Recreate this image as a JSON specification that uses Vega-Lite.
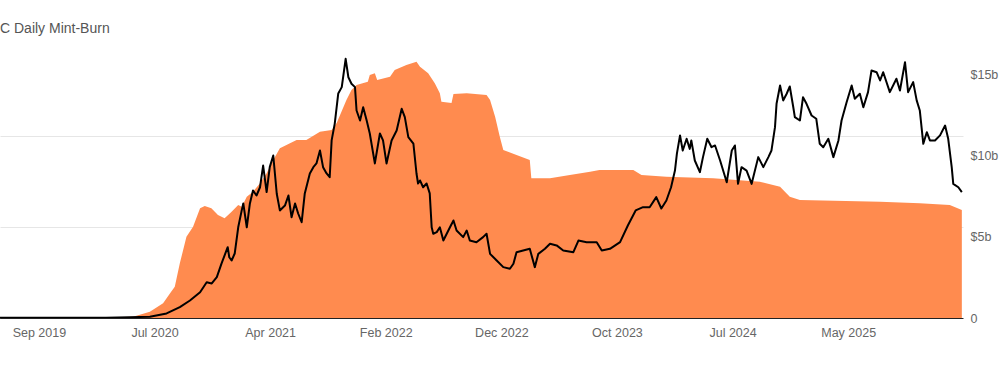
{
  "$schema": "https://vega.github.io/schema/vega-lite/v6.json",
  "autosize": {"type": "none"},
  "width": 963,
  "height": 273,
  "padding": {"left": 0, "top": 45, "right": 37, "bottom": 60},
  "background": "#ffffff",
  "title": {
    "text": "C Daily Mint-Burn",
    "anchor": "start",
    "frame": "group",
    "offset": 9,
    "font": "Liberation Sans",
    "fontSize": 14,
    "fontWeight": "normal",
    "color": "#555555"
  },
  "config": {
    "view": {"stroke": null},
    "axis": {"labelFont": "Liberation Sans", "labelFontSize": 12.5, "labelColor": "#666666"}
  },
  "datasets": {
    "supply": [
      {"date": "2019-06-03", "btc": 200},
      {"date": "2019-12-01", "btc": 300},
      {"date": "2020-03-01", "btc": 500},
      {"date": "2020-05-10", "btc": 1400},
      {"date": "2020-06-22", "btc": 6900},
      {"date": "2020-07-26", "btc": 16150},
      {"date": "2020-08-13", "btc": 27100},
      {"date": "2020-08-25", "btc": 34400},
      {"date": "2020-09-07", "btc": 60100},
      {"date": "2020-09-24", "btc": 89300},
      {"date": "2020-10-11", "btc": 100300},
      {"date": "2020-10-29", "btc": 120500},
      {"date": "2020-11-10", "btc": 123100},
      {"date": "2020-11-27", "btc": 120500},
      {"date": "2020-12-14", "btc": 113200},
      {"date": "2020-12-31", "btc": 109600},
      {"date": "2021-01-18", "btc": 116800},
      {"date": "2021-02-04", "btc": 124200},
      {"date": "2021-02-13", "btc": 122300},
      {"date": "2021-02-26", "btc": 133300},
      {"date": "2021-03-14", "btc": 138800},
      {"date": "2021-04-01", "btc": 148000},
      {"date": "2021-04-18", "btc": 159000},
      {"date": "2021-05-05", "btc": 173600},
      {"date": "2021-05-22", "btc": 186500},
      {"date": "2021-06-17", "btc": 192000},
      {"date": "2021-07-04", "btc": 195600},
      {"date": "2021-07-29", "btc": 195600},
      {"date": "2021-09-02", "btc": 204700},
      {"date": "2021-10-02", "btc": 206600},
      {"date": "2021-10-15", "btc": 214300},
      {"date": "2021-11-09", "btc": 239600},
      {"date": "2021-11-22", "btc": 250500},
      {"date": "2021-12-05", "btc": 256000},
      {"date": "2022-01-03", "btc": 259700},
      {"date": "2022-01-08", "btc": 267000},
      {"date": "2022-01-21", "btc": 268900},
      {"date": "2022-01-27", "btc": 261500},
      {"date": "2022-03-01", "btc": 265200},
      {"date": "2022-03-13", "btc": 272500},
      {"date": "2022-04-12", "btc": 278000},
      {"date": "2022-05-08", "btc": 281600},
      {"date": "2022-05-17", "btc": 276200},
      {"date": "2022-06-07", "btc": 268900},
      {"date": "2022-06-24", "btc": 257900},
      {"date": "2022-07-07", "btc": 246900},
      {"date": "2022-07-11", "btc": 237700},
      {"date": "2022-08-06", "btc": 236300},
      {"date": "2022-08-11", "btc": 246200},
      {"date": "2022-09-14", "btc": 246900},
      {"date": "2022-11-04", "btc": 245000},
      {"date": "2022-11-13", "btc": 239600},
      {"date": "2022-11-26", "btc": 221200},
      {"date": "2022-12-08", "btc": 199200},
      {"date": "2022-12-17", "btc": 184600},
      {"date": "2023-01-20", "btc": 179100},
      {"date": "2023-02-23", "btc": 173600},
      {"date": "2023-02-27", "btc": 153500},
      {"date": "2023-04-16", "btc": 153500},
      {"date": "2023-06-06", "btc": 157100},
      {"date": "2023-07-28", "btc": 160800},
      {"date": "2023-08-21", "btc": 162600},
      {"date": "2023-11-16", "btc": 162600},
      {"date": "2023-12-07", "btc": 157100},
      {"date": "2024-02-09", "btc": 155300},
      {"date": "2024-06-08", "btc": 153500},
      {"date": "2024-10-06", "btc": 149800},
      {"date": "2024-11-27", "btc": 144300},
      {"date": "2024-12-22", "btc": 133300},
      {"date": "2025-01-17", "btc": 129700},
      {"date": "2025-08-11", "btc": 127800},
      {"date": "2025-11-21", "btc": 126000},
      {"date": "2026-02-06", "btc": 124200},
      {"date": "2026-03-09", "btc": 118700}
    ],
    "mcap": [
      {"date": "2019-06-03", "usd_b": 0.01},
      {"date": "2019-12-01", "usd_b": 0.01},
      {"date": "2020-03-01", "usd_b": 0.02},
      {"date": "2020-05-01", "usd_b": 0.04},
      {"date": "2020-06-22", "usd_b": 0.08},
      {"date": "2020-08-04", "usd_b": 0.28},
      {"date": "2020-09-07", "usd_b": 0.67},
      {"date": "2020-10-03", "usd_b": 1.08},
      {"date": "2020-10-29", "usd_b": 1.59},
      {"date": "2020-11-15", "usd_b": 2.21},
      {"date": "2020-11-28", "usd_b": 2.13},
      {"date": "2020-12-11", "usd_b": 2.52},
      {"date": "2020-12-23", "usd_b": 3.36},
      {"date": "2021-01-08", "usd_b": 4.37},
      {"date": "2021-01-12", "usd_b": 3.75},
      {"date": "2021-01-18", "usd_b": 3.55},
      {"date": "2021-01-26", "usd_b": 3.98},
      {"date": "2021-02-04", "usd_b": 5.6},
      {"date": "2021-02-13", "usd_b": 6.64},
      {"date": "2021-02-17", "usd_b": 7.07},
      {"date": "2021-02-26", "usd_b": 5.6},
      {"date": "2021-03-06", "usd_b": 7.07},
      {"date": "2021-03-14", "usd_b": 7.87},
      {"date": "2021-03-23", "usd_b": 7.56},
      {"date": "2021-04-01", "usd_b": 8.07},
      {"date": "2021-04-09", "usd_b": 9.41},
      {"date": "2021-04-18", "usd_b": 7.77},
      {"date": "2021-04-26", "usd_b": 9.31},
      {"date": "2021-05-05", "usd_b": 10.03},
      {"date": "2021-05-14", "usd_b": 7.67},
      {"date": "2021-05-22", "usd_b": 6.64},
      {"date": "2021-06-04", "usd_b": 6.94},
      {"date": "2021-06-13", "usd_b": 7.56},
      {"date": "2021-06-21", "usd_b": 6.22},
      {"date": "2021-06-30", "usd_b": 7.07},
      {"date": "2021-07-08", "usd_b": 6.45},
      {"date": "2021-07-17", "usd_b": 5.91},
      {"date": "2021-07-25", "usd_b": 7.69},
      {"date": "2021-08-07", "usd_b": 8.92},
      {"date": "2021-08-16", "usd_b": 9.31},
      {"date": "2021-08-24", "usd_b": 9.54},
      {"date": "2021-09-02", "usd_b": 10.34},
      {"date": "2021-09-10", "usd_b": 9.31},
      {"date": "2021-09-19", "usd_b": 8.92},
      {"date": "2021-09-27", "usd_b": 8.69},
      {"date": "2021-10-02", "usd_b": 10.96},
      {"date": "2021-10-10", "usd_b": 12.0},
      {"date": "2021-10-19", "usd_b": 13.86},
      {"date": "2021-10-28", "usd_b": 14.25},
      {"date": "2021-11-07", "usd_b": 16.0},
      {"date": "2021-11-14", "usd_b": 14.86},
      {"date": "2021-11-22", "usd_b": 14.46},
      {"date": "2021-12-01", "usd_b": 14.25},
      {"date": "2021-12-05", "usd_b": 12.81},
      {"date": "2021-12-14", "usd_b": 12.19},
      {"date": "2021-12-22", "usd_b": 13.01},
      {"date": "2021-12-31", "usd_b": 12.19},
      {"date": "2022-01-08", "usd_b": 11.39},
      {"date": "2022-01-21", "usd_b": 9.54},
      {"date": "2022-02-03", "usd_b": 11.39},
      {"date": "2022-02-11", "usd_b": 10.96},
      {"date": "2022-02-20", "usd_b": 9.54},
      {"date": "2022-03-05", "usd_b": 10.96},
      {"date": "2022-03-18", "usd_b": 11.57},
      {"date": "2022-03-31", "usd_b": 12.91},
      {"date": "2022-04-08", "usd_b": 12.4},
      {"date": "2022-04-17", "usd_b": 11.16},
      {"date": "2022-04-30", "usd_b": 10.77},
      {"date": "2022-05-08", "usd_b": 8.92},
      {"date": "2022-05-12", "usd_b": 8.3},
      {"date": "2022-05-17", "usd_b": 8.49},
      {"date": "2022-05-25", "usd_b": 8.07},
      {"date": "2022-06-03", "usd_b": 8.3},
      {"date": "2022-06-11", "usd_b": 7.69},
      {"date": "2022-06-16", "usd_b": 5.6},
      {"date": "2022-06-20", "usd_b": 5.2},
      {"date": "2022-06-29", "usd_b": 5.3},
      {"date": "2022-07-07", "usd_b": 5.6},
      {"date": "2022-07-16", "usd_b": 4.78},
      {"date": "2022-08-02", "usd_b": 5.6},
      {"date": "2022-08-11", "usd_b": 6.02},
      {"date": "2022-08-19", "usd_b": 5.4},
      {"date": "2022-09-05", "usd_b": 4.99},
      {"date": "2022-09-14", "usd_b": 5.4},
      {"date": "2022-09-22", "usd_b": 4.78},
      {"date": "2022-10-09", "usd_b": 4.68},
      {"date": "2022-10-26", "usd_b": 4.99},
      {"date": "2022-11-04", "usd_b": 5.2},
      {"date": "2022-11-13", "usd_b": 3.96},
      {"date": "2022-11-30", "usd_b": 3.55},
      {"date": "2022-12-17", "usd_b": 3.14},
      {"date": "2023-01-03", "usd_b": 3.04},
      {"date": "2023-01-12", "usd_b": 3.35},
      {"date": "2023-01-20", "usd_b": 4.06},
      {"date": "2023-02-06", "usd_b": 4.17},
      {"date": "2023-02-23", "usd_b": 4.27},
      {"date": "2023-03-08", "usd_b": 3.14},
      {"date": "2023-03-17", "usd_b": 3.96},
      {"date": "2023-04-03", "usd_b": 4.27},
      {"date": "2023-04-16", "usd_b": 4.58},
      {"date": "2023-05-03", "usd_b": 4.48},
      {"date": "2023-05-20", "usd_b": 4.17},
      {"date": "2023-06-15", "usd_b": 4.06},
      {"date": "2023-06-28", "usd_b": 4.78},
      {"date": "2023-07-19", "usd_b": 4.68},
      {"date": "2023-08-14", "usd_b": 4.68},
      {"date": "2023-08-27", "usd_b": 4.17},
      {"date": "2023-09-17", "usd_b": 4.27},
      {"date": "2023-10-13", "usd_b": 4.68},
      {"date": "2023-11-02", "usd_b": 5.71},
      {"date": "2023-11-22", "usd_b": 6.64},
      {"date": "2023-12-11", "usd_b": 6.84},
      {"date": "2023-12-28", "usd_b": 6.84},
      {"date": "2024-01-14", "usd_b": 7.46},
      {"date": "2024-01-27", "usd_b": 6.76},
      {"date": "2024-02-09", "usd_b": 7.25},
      {"date": "2024-02-21", "usd_b": 8.07},
      {"date": "2024-03-02", "usd_b": 9.1},
      {"date": "2024-03-07", "usd_b": 10.15},
      {"date": "2024-03-15", "usd_b": 11.27},
      {"date": "2024-03-22", "usd_b": 10.34},
      {"date": "2024-04-01", "usd_b": 11.06},
      {"date": "2024-04-09", "usd_b": 10.44},
      {"date": "2024-04-13", "usd_b": 10.96},
      {"date": "2024-04-22", "usd_b": 9.72},
      {"date": "2024-05-05", "usd_b": 9.0},
      {"date": "2024-05-13", "usd_b": 9.93},
      {"date": "2024-05-24", "usd_b": 11.06},
      {"date": "2024-06-04", "usd_b": 10.54},
      {"date": "2024-06-13", "usd_b": 10.65},
      {"date": "2024-06-26", "usd_b": 9.72},
      {"date": "2024-07-13", "usd_b": 8.38},
      {"date": "2024-07-26", "usd_b": 10.34},
      {"date": "2024-08-03", "usd_b": 10.65},
      {"date": "2024-08-11", "usd_b": 8.28},
      {"date": "2024-08-20", "usd_b": 9.31},
      {"date": "2024-09-02", "usd_b": 9.1},
      {"date": "2024-09-15", "usd_b": 8.28},
      {"date": "2024-10-02", "usd_b": 9.93},
      {"date": "2024-10-15", "usd_b": 9.31},
      {"date": "2024-10-28", "usd_b": 9.93},
      {"date": "2024-11-05", "usd_b": 10.34},
      {"date": "2024-11-14", "usd_b": 11.78},
      {"date": "2024-11-18", "usd_b": 13.22},
      {"date": "2024-11-27", "usd_b": 14.35},
      {"date": "2024-12-05", "usd_b": 13.43},
      {"date": "2024-12-14", "usd_b": 13.84},
      {"date": "2024-12-22", "usd_b": 14.29},
      {"date": "2024-12-31", "usd_b": 13.01},
      {"date": "2025-01-04", "usd_b": 12.4},
      {"date": "2025-01-17", "usd_b": 12.19},
      {"date": "2025-01-25", "usd_b": 13.63},
      {"date": "2025-02-03", "usd_b": 13.22},
      {"date": "2025-02-16", "usd_b": 12.5},
      {"date": "2025-02-28", "usd_b": 12.3},
      {"date": "2025-03-09", "usd_b": 10.75},
      {"date": "2025-03-18", "usd_b": 10.54},
      {"date": "2025-03-31", "usd_b": 11.06},
      {"date": "2025-04-13", "usd_b": 9.93},
      {"date": "2025-04-26", "usd_b": 10.96},
      {"date": "2025-05-04", "usd_b": 12.19},
      {"date": "2025-05-17", "usd_b": 13.32},
      {"date": "2025-05-30", "usd_b": 14.35},
      {"date": "2025-06-07", "usd_b": 13.53},
      {"date": "2025-06-20", "usd_b": 13.84},
      {"date": "2025-06-29", "usd_b": 13.01},
      {"date": "2025-07-11", "usd_b": 13.94},
      {"date": "2025-07-20", "usd_b": 15.28},
      {"date": "2025-08-02", "usd_b": 15.17},
      {"date": "2025-08-11", "usd_b": 14.66},
      {"date": "2025-08-19", "usd_b": 15.17},
      {"date": "2025-09-05", "usd_b": 13.94},
      {"date": "2025-09-22", "usd_b": 14.77},
      {"date": "2025-10-01", "usd_b": 14.04},
      {"date": "2025-10-14", "usd_b": 15.79},
      {"date": "2025-10-22", "usd_b": 13.94},
      {"date": "2025-11-04", "usd_b": 14.56},
      {"date": "2025-11-13", "usd_b": 13.43},
      {"date": "2025-11-21", "usd_b": 12.81},
      {"date": "2025-11-30", "usd_b": 10.75},
      {"date": "2025-12-09", "usd_b": 11.47},
      {"date": "2025-12-17", "usd_b": 10.96},
      {"date": "2025-12-30", "usd_b": 10.96},
      {"date": "2026-01-12", "usd_b": 11.27},
      {"date": "2026-01-25", "usd_b": 11.88},
      {"date": "2026-02-02", "usd_b": 11.06},
      {"date": "2026-02-11", "usd_b": 9.31},
      {"date": "2026-02-15", "usd_b": 8.28},
      {"date": "2026-02-28", "usd_b": 8.07},
      {"date": "2026-03-09", "usd_b": 7.77}
    ]
  },
  "encoding": {
    "x": {
      "field": "date",
      "type": "temporal",
      "scale": {
        "domain": [
          {"year": 2019, "month": 6, "date": 3},
          {"year": 2026, "month": 3, "date": 12}
        ]
      },
      "axis": {
        "title": null,
        "format": "%b %Y",
        "values": [
          {"year": 2019, "month": 9, "date": 11},
          {"year": 2020, "month": 7, "date": 4},
          {"year": 2021, "month": 4, "date": 27},
          {"year": 2022, "month": 2, "date": 18},
          {"year": 2022, "month": 12, "date": 12},
          {"year": 2023, "month": 10, "date": 5},
          {"year": 2024, "month": 7, "date": 28},
          {"year": 2025, "month": 5, "date": 21}
        ],
        "grid": false,
        "ticks": false,
        "domainColor": "#222222",
        "domainWidth": 1,
        "labelPadding": 8,
        "labelAngle": 0,
        "zindex": 1
      }
    }
  },
  "layer": [
    {
      "data": {"name": "supply"},
      "mark": {"type": "area", "color": "#ff8b4f", "opacity": 1},
      "encoding": {
        "y": {
          "field": "btc",
          "type": "quantitative",
          "scale": {"domain": [0, 300000], "nice": false, "zero": true},
          "axis": {
            "title": null,
            "orient": "left",
            "values": [100000, 200000],
            "labels": false,
            "ticks": false,
            "domain": false,
            "grid": true,
            "gridColor": "#e6e6e6",
            "gridWidth": 1
          }
        }
      }
    },
    {
      "data": {"name": "mcap"},
      "mark": {"type": "line", "color": "#000000", "strokeWidth": 2, "strokeJoin": "round"},
      "encoding": {
        "y": {
          "field": "usd_b",
          "type": "quantitative",
          "scale": {"domain": [0, 16.85], "nice": false},
          "axis": {
            "title": null,
            "orient": "right",
            "values": [0, 5, 10, 15],
            "labelExpr": "datum.value == 0 ? '0' : '$' + datum.value + 'b'",
            "ticks": false,
            "domain": false,
            "grid": false,
            "labelPadding": 7
          }
        }
      }
    }
  ],
  "resolve": {"scale": {"y": "independent"}}
}
